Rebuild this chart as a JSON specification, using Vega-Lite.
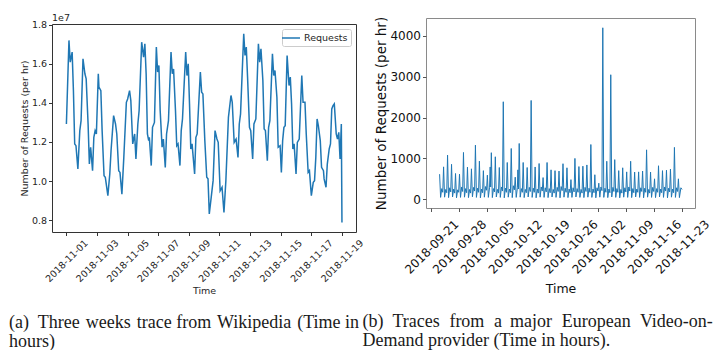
{
  "$schema": "https://vega.github.io/schema/vega-lite/v6.json",
  "background": "white",
  "padding": {"left": 8, "top": 12, "right": 0, "bottom": 0},
  "spacing": -4,
  "bounds": "full",
  "align": "none",
  "resolve": {"scale": {"color": "independent"}, "legend": {"color": "independent"}},
  "config": {
    "font": "DejaVu Sans",
    "axis": {"grid": false, "domain": false, "titleFontWeight": "normal", "labelOverlap": false, "labelFlush": false, "labelBound": false, "tickSize": 3.5}
  },
  "datasets": {
    "wiki": [
      {"t":"2018-11-01T00:00","v":12920000},{"t":"2018-11-01T04:00","v":17200000},{"t":"2018-11-01T06:00","v":16090000},{"t":"2018-11-01T09:00","v":16600000},{"t":"2018-11-01T11:00","v":14630000},{"t":"2018-11-01T13:00","v":11900000},{"t":"2018-11-01T15:00","v":11810000},{"t":"2018-11-01T18:00","v":10620000},{"t":"2018-11-01T21:00","v":12580000},{"t":"2018-11-01T23:00","v":13090000},
      {"t":"2018-11-02T02:00","v":16260000},{"t":"2018-11-02T05:00","v":15490000},{"t":"2018-11-02T07:00","v":15230000},{"t":"2018-11-02T10:00","v":12920000},{"t":"2018-11-02T12:00","v":10870000},{"t":"2018-11-02T14:00","v":11730000},{"t":"2018-11-02T17:00","v":10530000},{"t":"2018-11-02T19:00","v":12240000},{"t":"2018-11-02T21:00","v":12580000},{"t":"2018-11-02T23:00","v":12410000},
      {"t":"2018-11-03T02:00","v":15490000},{"t":"2018-11-03T03:00","v":14810000},{"t":"2018-11-03T06:00","v":14630000},{"t":"2018-11-03T08:00","v":12580000},{"t":"2018-11-03T11:00","v":10270000},{"t":"2018-11-03T13:00","v":10190000},{"t":"2018-11-03T17:00","v":9250000},{"t":"2018-11-03T20:00","v":10360000},{"t":"2018-11-03T22:00","v":11560000},
      {"t":"2018-11-04T02:00","v":13350000},{"t":"2018-11-04T05:00","v":12920000},{"t":"2018-11-04T07:00","v":12410000},{"t":"2018-11-04T10:00","v":10530000},{"t":"2018-11-04T12:00","v":10440000},{"t":"2018-11-04T15:00","v":9330000},{"t":"2018-11-04T18:00","v":11210000},{"t":"2018-11-04T22:00","v":14030000},
      {"t":"2018-11-05T00:00","v":14200000},{"t":"2018-11-05T03:00","v":14630000},{"t":"2018-11-05T05:00","v":14120000},{"t":"2018-11-05T08:00","v":11900000},{"t":"2018-11-05T11:00","v":12410000},{"t":"2018-11-05T13:00","v":11130000},{"t":"2018-11-05T16:00","v":12920000},{"t":"2018-11-05T18:00","v":13610000},{"t":"2018-11-05T22:00","v":17110000},
      {"t":"2018-11-06T01:00","v":16340000},{"t":"2018-11-06T03:00","v":17030000},{"t":"2018-11-06T05:00","v":15490000},{"t":"2018-11-06T07:00","v":12410000},{"t":"2018-11-06T09:00","v":12070000},{"t":"2018-11-06T10:00","v":12240000},{"t":"2018-11-06T13:00","v":10790000},{"t":"2018-11-06T15:00","v":12750000},{"t":"2018-11-06T18:00","v":13000000},{"t":"2018-11-06T21:00","v":16860000},{"t":"2018-11-06T23:00","v":15580000},
      {"t":"2018-11-07T01:00","v":15920000},{"t":"2018-11-07T03:00","v":13610000},{"t":"2018-11-07T06:00","v":11730000},{"t":"2018-11-07T08:00","v":12150000},{"t":"2018-11-07T11:00","v":10700000},{"t":"2018-11-07T13:00","v":12410000},{"t":"2018-11-07T16:00","v":13090000},{"t":"2018-11-07T20:00","v":16600000},{"t":"2018-11-07T22:00","v":15490000},
      {"t":"2018-11-08T00:00","v":15740000},{"t":"2018-11-08T03:00","v":13610000},{"t":"2018-11-08T05:00","v":11810000},{"t":"2018-11-08T07:00","v":11900000},{"t":"2018-11-08T10:00","v":10790000},{"t":"2018-11-08T12:00","v":12580000},{"t":"2018-11-08T14:00","v":13180000},{"t":"2018-11-08T19:00","v":16600000},{"t":"2018-11-08T21:00","v":15400000},{"t":"2018-11-08T23:00","v":16000000},
      {"t":"2018-11-09T01:00","v":13950000},{"t":"2018-11-09T03:00","v":11640000},{"t":"2018-11-09T05:00","v":11900000},{"t":"2018-11-09T09:00","v":10360000},{"t":"2018-11-09T11:00","v":12240000},{"t":"2018-11-09T13:00","v":12410000},{"t":"2018-11-09T18:00","v":15580000},{"t":"2018-11-09T20:00","v":14550000},{"t":"2018-11-09T22:00","v":14460000},
      {"t":"2018-11-10T01:00","v":12070000},{"t":"2018-11-10T04:00","v":10190000},{"t":"2018-11-10T06:00","v":10110000},{"t":"2018-11-10T08:00","v":8310000},{"t":"2018-11-10T11:00","v":9160000},{"t":"2018-11-10T14:00","v":10020000},{"t":"2018-11-10T17:00","v":12580000},{"t":"2018-11-10T20:00","v":12150000},{"t":"2018-11-10T22:00","v":11980000},
      {"t":"2018-11-11T01:00","v":9500000},{"t":"2018-11-11T04:00","v":9680000},{"t":"2018-11-11T07:00","v":8390000},{"t":"2018-11-11T10:00","v":10020000},{"t":"2018-11-11T14:00","v":13260000},{"t":"2018-11-11T18:00","v":14380000},{"t":"2018-11-11T20:00","v":14030000},{"t":"2018-11-11T23:00","v":11980000},
      {"t":"2018-11-12T02:00","v":12150000},{"t":"2018-11-12T05:00","v":11210000},{"t":"2018-11-12T07:00","v":12920000},{"t":"2018-11-12T09:00","v":13440000},{"t":"2018-11-12T14:00","v":17540000},{"t":"2018-11-12T16:00","v":16430000},{"t":"2018-11-12T18:00","v":16860000},{"t":"2018-11-12T20:00","v":15320000},{"t":"2018-11-12T23:00","v":12750000},
      {"t":"2018-11-13T01:00","v":12580000},{"t":"2018-11-13T04:00","v":11130000},{"t":"2018-11-13T06:00","v":12920000},{"t":"2018-11-13T09:00","v":13180000},{"t":"2018-11-13T13:00","v":17030000},{"t":"2018-11-13T15:00","v":16090000},{"t":"2018-11-13T17:00","v":16770000},{"t":"2018-11-13T20:00","v":15150000},{"t":"2018-11-13T22:00","v":12660000},
      {"t":"2018-11-14T00:00","v":12580000},{"t":"2018-11-14T03:00","v":11040000},{"t":"2018-11-14T05:00","v":12750000},{"t":"2018-11-14T07:00","v":13090000},{"t":"2018-11-14T11:00","v":16510000},{"t":"2018-11-14T13:00","v":15400000},{"t":"2018-11-14T15:00","v":15660000},{"t":"2018-11-14T18:00","v":14290000},{"t":"2018-11-14T20:00","v":11730000},{"t":"2018-11-14T23:00","v":11810000},
      {"t":"2018-11-15T01:00","v":10440000},{"t":"2018-11-15T03:00","v":12070000},{"t":"2018-11-15T05:00","v":12750000},{"t":"2018-11-15T07:00","v":12830000},{"t":"2018-11-15T10:00","v":16430000},{"t":"2018-11-15T13:00","v":14890000},{"t":"2018-11-15T15:00","v":15320000},{"t":"2018-11-15T17:00","v":13950000},{"t":"2018-11-15T19:00","v":11640000},{"t":"2018-11-15T21:00","v":11900000},
      {"t":"2018-11-16T00:00","v":10360000},{"t":"2018-11-16T02:00","v":11980000},{"t":"2018-11-16T05:00","v":12150000},{"t":"2018-11-16T09:00","v":15400000},{"t":"2018-11-16T11:00","v":14030000},{"t":"2018-11-16T14:00","v":14030000},{"t":"2018-11-16T16:00","v":12410000},{"t":"2018-11-16T19:00","v":10440000},{"t":"2018-11-16T21:00","v":10530000},
      {"t":"2018-11-17T00:00","v":9250000},{"t":"2018-11-17T03:00","v":9930000},{"t":"2018-11-17T05:00","v":10020000},{"t":"2018-11-17T07:00","v":11210000},{"t":"2018-11-17T09:00","v":13180000},{"t":"2018-11-17T11:00","v":12830000},{"t":"2018-11-17T14:00","v":12070000},{"t":"2018-11-17T16:00","v":10700000},{"t":"2018-11-17T19:00","v":10530000},{"t":"2018-11-17T20:00","v":10110000},{"t":"2018-11-17T23:00","v":9680000},
      {"t":"2018-11-18T01:00","v":10870000},{"t":"2018-11-18T04:00","v":11640000},{"t":"2018-11-18T06:00","v":11900000},{"t":"2018-11-18T08:00","v":13690000},{"t":"2018-11-18T10:00","v":13860000},{"t":"2018-11-18T12:00","v":13950000},{"t":"2018-11-18T15:00","v":12410000},{"t":"2018-11-18T17:00","v":12150000},{"t":"2018-11-18T19:00","v":12490000},{"t":"2018-11-18T21:00","v":11130000},{"t":"2018-11-18T23:00","v":12920000},
      {"t":"2018-11-19T00:00","v":7880000}
    ],
    "vod": [
      {"t":"2018-09-23T02:00","v":614},{"t":"2018-09-23T08:00","v":45},{"t":"2018-09-23T15:00","v":260},{"t":"2018-09-23T21:00","v":170},
      {"t":"2018-09-24T02:00","v":793},{"t":"2018-09-24T08:00","v":50},{"t":"2018-09-24T15:00","v":240},{"t":"2018-09-24T21:00","v":160},
      {"t":"2018-09-25T02:00","v":1080},{"t":"2018-09-25T08:00","v":40},{"t":"2018-09-25T15:00","v":280},{"t":"2018-09-25T21:00","v":180},
      {"t":"2018-09-26T02:00","v":855},{"t":"2018-09-26T08:00","v":55},{"t":"2018-09-26T15:00","v":250},{"t":"2018-09-26T21:00","v":150},
      {"t":"2018-09-27T02:00","v":630},{"t":"2018-09-27T08:00","v":35},{"t":"2018-09-27T15:00","v":230},{"t":"2018-09-27T21:00","v":170},
      {"t":"2018-09-28T02:00","v":614},{"t":"2018-09-28T08:00","v":45},{"t":"2018-09-28T15:00","v":300},{"t":"2018-09-28T21:00","v":190},
      {"t":"2018-09-29T02:00","v":1146},{"t":"2018-09-29T08:00","v":50},{"t":"2018-09-29T15:00","v":260},{"t":"2018-09-29T21:00","v":160},
      {"t":"2018-09-30T02:00","v":785},{"t":"2018-09-30T08:00","v":40},{"t":"2018-09-30T15:00","v":240},{"t":"2018-09-30T21:00","v":150},
      {"t":"2018-10-01T02:00","v":745},{"t":"2018-10-01T08:00","v":60},{"t":"2018-10-01T15:00","v":290},{"t":"2018-10-01T21:00","v":200},
      {"t":"2018-10-02T02:00","v":1325},{"t":"2018-10-02T08:00","v":45},{"t":"2018-10-02T15:00","v":270},{"t":"2018-10-02T21:00","v":170},
      {"t":"2018-10-03T02:00","v":933},{"t":"2018-10-03T08:00","v":35},{"t":"2018-10-03T15:00","v":250},{"t":"2018-10-03T21:00","v":160},
      {"t":"2018-10-04T02:00","v":700},{"t":"2018-10-04T08:00","v":50},{"t":"2018-10-04T15:00","v":310},{"t":"2018-10-04T21:00","v":220},
      {"t":"2018-10-05T02:00","v":590},{"t":"2018-10-05T08:00","v":45},{"t":"2018-10-05T15:00","v":280},{"t":"2018-10-05T19:00","v":790},{"t":"2018-10-05T22:00","v":300},
      {"t":"2018-10-06T02:00","v":1140},{"t":"2018-10-06T08:00","v":40},{"t":"2018-10-06T15:00","v":260},{"t":"2018-10-06T21:00","v":180},
      {"t":"2018-10-07T02:00","v":1040},{"t":"2018-10-07T08:00","v":55},{"t":"2018-10-07T15:00","v":240},{"t":"2018-10-07T21:00","v":150},
      {"t":"2018-10-08T02:00","v":777},{"t":"2018-10-08T08:00","v":45},{"t":"2018-10-08T15:00","v":300},{"t":"2018-10-08T21:00","v":200},
      {"t":"2018-10-09T02:00","v":2388},{"t":"2018-10-09T08:00","v":35},{"t":"2018-10-09T15:00","v":270},{"t":"2018-10-09T21:00","v":170},
      {"t":"2018-10-10T02:00","v":900},{"t":"2018-10-10T08:00","v":50},{"t":"2018-10-10T15:00","v":250},{"t":"2018-10-10T21:00","v":160},
      {"t":"2018-10-11T02:00","v":1243},{"t":"2018-10-11T08:00","v":40},{"t":"2018-10-11T15:00","v":330},{"t":"2018-10-11T21:00","v":230},
      {"t":"2018-10-12T02:00","v":540},{"t":"2018-10-12T08:00","v":45},{"t":"2018-10-12T15:00","v":280},{"t":"2018-10-12T18:00","v":720},{"t":"2018-10-12T22:00","v":250},
      {"t":"2018-10-13T02:00","v":1366},{"t":"2018-10-13T08:00","v":50},{"t":"2018-10-13T15:00","v":260},{"t":"2018-10-13T21:00","v":170},
      {"t":"2018-10-14T02:00","v":900},{"t":"2018-10-14T08:00","v":40},{"t":"2018-10-14T15:00","v":240},{"t":"2018-10-14T21:00","v":160},
      {"t":"2018-10-15T02:00","v":777},{"t":"2018-10-15T08:00","v":55},{"t":"2018-10-15T15:00","v":290},{"t":"2018-10-15T21:00","v":190},
      {"t":"2018-10-16T02:00","v":2420},{"t":"2018-10-16T08:00","v":45},{"t":"2018-10-16T15:00","v":270},{"t":"2018-10-16T21:00","v":170},
      {"t":"2018-10-17T02:00","v":790},{"t":"2018-10-17T08:00","v":35},{"t":"2018-10-17T15:00","v":250},{"t":"2018-10-17T21:00","v":150},
      {"t":"2018-10-18T02:00","v":875},{"t":"2018-10-18T08:00","v":50},{"t":"2018-10-18T15:00","v":300},{"t":"2018-10-18T21:00","v":200},
      {"t":"2018-10-19T02:00","v":530},{"t":"2018-10-19T08:00","v":45},{"t":"2018-10-19T15:00","v":280},{"t":"2018-10-19T21:00","v":180},
      {"t":"2018-10-20T02:00","v":900},{"t":"2018-10-20T08:00","v":40},{"t":"2018-10-20T15:00","v":260},{"t":"2018-10-20T21:00","v":160},
      {"t":"2018-10-21T02:00","v":720},{"t":"2018-10-21T08:00","v":55},{"t":"2018-10-21T15:00","v":240},{"t":"2018-10-21T21:00","v":150},
      {"t":"2018-10-22T02:00","v":700},{"t":"2018-10-22T08:00","v":45},{"t":"2018-10-22T15:00","v":290},{"t":"2018-10-22T21:00","v":190},
      {"t":"2018-10-23T02:00","v":690},{"t":"2018-10-23T08:00","v":35},{"t":"2018-10-23T15:00","v":310},{"t":"2018-10-23T21:00","v":210},
      {"t":"2018-10-24T02:00","v":870},{"t":"2018-10-24T08:00","v":50},{"t":"2018-10-24T15:00","v":270},{"t":"2018-10-24T21:00","v":170},
      {"t":"2018-10-25T02:00","v":770},{"t":"2018-10-25T08:00","v":40},{"t":"2018-10-25T15:00","v":250},{"t":"2018-10-25T21:00","v":160},
      {"t":"2018-10-26T02:00","v":480},{"t":"2018-10-26T08:00","v":45},{"t":"2018-10-26T15:00","v":280},{"t":"2018-10-26T21:00","v":180},
      {"t":"2018-10-27T02:00","v":1000},{"t":"2018-10-27T08:00","v":55},{"t":"2018-10-27T15:00","v":260},{"t":"2018-10-27T21:00","v":170},
      {"t":"2018-10-28T02:00","v":800},{"t":"2018-10-28T08:00","v":45},{"t":"2018-10-28T15:00","v":240},{"t":"2018-10-28T21:00","v":150},
      {"t":"2018-10-29T02:00","v":810},{"t":"2018-10-29T08:00","v":40},{"t":"2018-10-29T15:00","v":290},{"t":"2018-10-29T21:00","v":190},
      {"t":"2018-10-30T02:00","v":840},{"t":"2018-10-30T08:00","v":50},{"t":"2018-10-30T15:00","v":270},{"t":"2018-10-30T21:00","v":170},
      {"t":"2018-10-31T02:00","v":1340},{"t":"2018-10-31T08:00","v":45},{"t":"2018-10-31T15:00","v":250},{"t":"2018-10-31T21:00","v":160},
      {"t":"2018-11-01T02:00","v":600},{"t":"2018-11-01T08:00","v":35},{"t":"2018-11-01T15:00","v":280},{"t":"2018-11-01T21:00","v":200},
      {"t":"2018-11-02T02:00","v":393},{"t":"2018-11-02T08:00","v":50},{"t":"2018-11-02T15:00","v":300},{"t":"2018-11-02T21:00","v":210},
      {"t":"2018-11-03T02:00","v":4200},{"t":"2018-11-03T08:00","v":45},{"t":"2018-11-03T15:00","v":270},{"t":"2018-11-03T21:00","v":170},
      {"t":"2018-11-04T02:00","v":930},{"t":"2018-11-04T08:00","v":40},{"t":"2018-11-04T15:00","v":250},{"t":"2018-11-04T21:00","v":160},
      {"t":"2018-11-05T02:00","v":3050},{"t":"2018-11-05T08:00","v":55},{"t":"2018-11-05T15:00","v":290},{"t":"2018-11-05T21:00","v":190},
      {"t":"2018-11-06T02:00","v":970},{"t":"2018-11-06T08:00","v":45},{"t":"2018-11-06T15:00","v":260},{"t":"2018-11-06T21:00","v":170},
      {"t":"2018-11-07T02:00","v":700},{"t":"2018-11-07T08:00","v":35},{"t":"2018-11-07T15:00","v":240},{"t":"2018-11-07T21:00","v":150},
      {"t":"2018-11-08T02:00","v":770},{"t":"2018-11-08T08:00","v":50},{"t":"2018-11-08T15:00","v":280},{"t":"2018-11-08T21:00","v":180},
      {"t":"2018-11-09T02:00","v":670},{"t":"2018-11-09T08:00","v":45},{"t":"2018-11-09T15:00","v":300},{"t":"2018-11-09T21:00","v":200},
      {"t":"2018-11-10T02:00","v":930},{"t":"2018-11-10T08:00","v":40},{"t":"2018-11-10T15:00","v":260},{"t":"2018-11-10T21:00","v":160},
      {"t":"2018-11-11T02:00","v":665},{"t":"2018-11-11T08:00","v":55},{"t":"2018-11-11T15:00","v":250},{"t":"2018-11-11T21:00","v":170},
      {"t":"2018-11-12T02:00","v":670},{"t":"2018-11-12T08:00","v":45},{"t":"2018-11-12T15:00","v":280},{"t":"2018-11-12T21:00","v":190},
      {"t":"2018-11-13T02:00","v":690},{"t":"2018-11-13T08:00","v":35},{"t":"2018-11-13T15:00","v":270},{"t":"2018-11-13T21:00","v":170},
      {"t":"2018-11-14T02:00","v":1210},{"t":"2018-11-14T08:00","v":50},{"t":"2018-11-14T15:00","v":240},{"t":"2018-11-14T21:00","v":150},
      {"t":"2018-11-15T02:00","v":665},{"t":"2018-11-15T08:00","v":45},{"t":"2018-11-15T15:00","v":290},{"t":"2018-11-15T21:00","v":190},
      {"t":"2018-11-16T02:00","v":500},{"t":"2018-11-16T08:00","v":40},{"t":"2018-11-16T15:00","v":260},{"t":"2018-11-16T21:00","v":170},
      {"t":"2018-11-17T02:00","v":820},{"t":"2018-11-17T08:00","v":55},{"t":"2018-11-17T15:00","v":250},{"t":"2018-11-17T21:00","v":160},
      {"t":"2018-11-18T02:00","v":700},{"t":"2018-11-18T08:00","v":45},{"t":"2018-11-18T15:00","v":300},{"t":"2018-11-18T21:00","v":200},
      {"t":"2018-11-19T02:00","v":710},{"t":"2018-11-19T08:00","v":35},{"t":"2018-11-19T15:00","v":270},{"t":"2018-11-19T21:00","v":180},
      {"t":"2018-11-20T02:00","v":740},{"t":"2018-11-20T08:00","v":50},{"t":"2018-11-20T15:00","v":250},{"t":"2018-11-20T21:00","v":160},
      {"t":"2018-11-21T02:00","v":1270},{"t":"2018-11-21T08:00","v":45},{"t":"2018-11-21T15:00","v":280},{"t":"2018-11-21T21:00","v":190},
      {"t":"2018-11-22T02:00","v":500},{"t":"2018-11-22T08:00","v":40},{"t":"2018-11-22T17:00","v":280},{"t":"2018-11-23T00:00","v":240}
    ]
  },
  "hconcat": [
    {
      "title": {"text": ["(a)\u2002Three\u200a weeks\u200a trace from\u200a Wikipedia\u200a (Time in", "hours)"], "orient": "bottom", "anchor": "start", "baseline": "top", "font": "Liberation Serif", "fontSize": 18, "fontWeight": "normal", "color": "#1a1a1a", "lineHeight": 19, "offset": 19, "dx": -10},
      "resolve": {"scale": {"color": "independent"}, "legend": {"color": "independent"}},
      "spacing": -7,
      "vconcat": [
        {
          "width": 304,
          "height": 1,
          "view": {"stroke": null},
          "data": {"values": []},
          "mark": "point"
        },
        {
          "width": 304,
          "height": 208,
          "view": {"stroke": "#333333", "strokeWidth": 1},
          "title": {"text": "1e7", "anchor": "start", "frame": "group", "orient": "top", "fontSize": 9.5, "fontWeight": "normal", "font": "DejaVu Sans", "color": "#262626", "offset": -2.5},
          "data": {"name": "wiki"},
          "mark": {"type": "line", "strokeWidth": 1.5, "clip": true},
          "encoding": {
            "x": {
              "field": "t", "type": "temporal",
              "scale": {"domain": [{"year": 2018, "month": 10, "date": 31, "hours": 1, "minutes": 25}, {"year": 2018, "month": 11, "date": 19, "hours": 22}]},
              "axis": {
                "values": [{"year":2018,"month":11,"date":1},{"year":2018,"month":11,"date":3},{"year":2018,"month":11,"date":5},{"year":2018,"month":11,"date":7},{"year":2018,"month":11,"date":9},{"year":2018,"month":11,"date":11},{"year":2018,"month":11,"date":13},{"year":2018,"month":11,"date":15},{"year":2018,"month":11,"date":17},{"year":2018,"month":11,"date":19}],
                "format": "%Y-%m-%d", "labelAngle": -45, "labelAlign": "center", "labelBaseline": "middle", "labelPadding": 25,
                "labelFontSize": 9.5, "labelColor": "#262626", "tickColor": "#333333",
                "title": "Time", "titleFontSize": 9.5, "titleColor": "#262626", "titlePadding": 2
              }
            },
            "y": {
              "field": "v", "type": "quantitative",
              "scale": {"domain": [7390000, 18040000], "nice": false, "zero": false},
              "axis": {
                "values": [8000000, 10000000, 12000000, 14000000, 16000000, 18000000],
                "labelExpr": "format(datum.value / 10000000, '.1f')",
                "labelFontSize": 9.5, "labelColor": "#262626", "labelPadding": 2, "tickColor": "#333333",
                "title": "Number of Requests (per hr)", "titleFontSize": 9.5, "titleColor": "#262626", "titlePadding": 2
              }
            },
            "color": {
              "datum": "Requests", "type": "nominal",
              "scale": {"range": ["#1f77b4"]},
              "legend": {"title": null, "orient": "top-right", "offset": 5, "padding": 3, "strokeColor": "#cccccc", "fillColor": "#ffffff", "cornerRadius": 2, "symbolType": "M-1.8,0H1.8", "symbolSize": 100, "symbolStrokeWidth": 1.5, "labelFontSize": 9.5, "labelOffset": 7, "labelColor": "#262626"}
            }
          }
        }
      ]
    },
    {
      "title": {"text": ["(b)\u2002Traces\u2009\u200a from\u2009\u200a a\u2009 major\u2009\u200a European\u2009\u200a Video-on-", "Demand provider (Time in hours)."], "orient": "bottom", "anchor": "start", "baseline": "top", "font": "Liberation Serif", "fontSize": 18, "fontWeight": "normal", "color": "#1a1a1a", "lineHeight": 19, "offset": 17.5, "dx": -12},
      "vconcat": [
        {
          "width": 269,
          "height": 190,
          "view": {"stroke": "#8a8a8a", "strokeWidth": 1},
          "data": {"name": "vod"},
          "mark": {"type": "line", "strokeWidth": 1, "clip": true, "color": "#1f77b4"},
          "encoding": {
            "x": {
              "field": "t", "type": "temporal",
              "scale": {"domain": [{"year": 2018, "month": 9, "date": 19, "hours": 16}, {"year": 2018, "month": 11, "date": 26, "hours": 6}]},
              "axis": {
                "values": [{"year":2018,"month":9,"date":21},{"year":2018,"month":9,"date":28},{"year":2018,"month":10,"date":5},{"year":2018,"month":10,"date":12},{"year":2018,"month":10,"date":19},{"year":2018,"month":10,"date":26},{"year":2018,"month":11,"date":2},{"year":2018,"month":11,"date":9},{"year":2018,"month":11,"date":16},{"year":2018,"month":11,"date":23}],
                "format": "%Y-%m-%d", "labelAngle": -45, "labelAlign": "center", "labelBaseline": "middle", "labelPadding": 35,
                "labelFontSize": 12, "labelColor": "#111111", "tickColor": "#555555",
                "title": "Time", "titleFontSize": 12.5, "titleColor": "#111111", "titlePadding": 7
              }
            },
            "y": {
              "field": "v", "type": "quantitative",
              "scale": {"domain": [-215, 4440], "nice": false, "zero": false},
              "axis": {
                "values": [0, 1000, 2000, 3000, 4000], "format": "d",
                "labelFontSize": 12, "labelColor": "#111111", "labelPadding": 2, "tickColor": "#555555",
                "title": "Number of Requests (per hr)", "titleFontSize": 13.5, "titleColor": "#111111", "titlePadding": 1
              }
            }
          }
        }
      ]
    }
  ]
}
